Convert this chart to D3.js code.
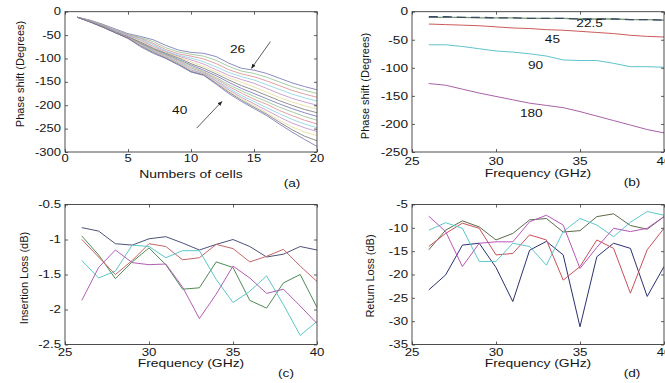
<!DOCTYPE html>
<html><head><meta charset="utf-8">
<script src="https://cdn.jsdelivr.net/npm/d3@7"></script>
<style>
body{margin:0;background:#fff}
svg{display:block}
text{font-family:"Liberation Sans",Arial,sans-serif;fill:#151515}
</style>
</head><body><svg id="chart" width="665" height="383"></svg>
<script>
// ---------- Panel (a): phase shift vs number of cells, 26..40 GHz ----------
const cells = [1,2,3,4,5,6,7,8,9,10,11,12,13,14,15,16,17,18,19,20];
const phase26 = [-12,-18,-27,-37,-47,-53,-60,-72,-82,-87,-89,-96,-110,-121,-125,-132,-142,-152,-160,-167];
const phase27 = [-12,-19,-28,-39,-49,-55,-64,-77,-86,-91,-95,-104,-117,-127,-132,-140,-150,-160,-168,-175];
const phase28 = [-12,-19,-29,-40,-50,-57,-68,-81,-90,-95,-101,-111,-124,-133,-139,-148,-158,-168,-176,-183];
const phase29 = [-12,-20,-30,-41,-51,-59,-71,-84,-93,-99,-107,-118,-130,-139,-146,-156,-166,-176,-184,-191];
const phase30 = [-12,-20,-30,-42,-52,-61,-74,-86,-95,-103,-112,-124,-136,-145,-153,-164,-175,-185,-193,-200];
const phase31 = [-12,-20,-31,-43,-53,-63,-76,-88,-97,-107,-117,-129,-141,-151,-161,-172,-183,-193,-201,-208];
const phase32 = [-12,-21,-31,-43,-54,-65,-78,-89,-99,-111,-121,-133,-146,-158,-168,-179,-190,-200,-209,-216];
const phase33 = [-12,-21,-32,-44,-54,-67,-80,-91,-102,-114,-125,-137,-151,-164,-175,-186,-197,-207,-216,-224];
const phase34 = [-12,-21,-32,-44,-55,-68,-81,-92,-104,-117,-128,-141,-156,-169,-181,-192,-204,-214,-224,-232];
const phase35 = [-12,-21,-32,-44,-55,-69,-83,-94,-106,-120,-130,-144,-160,-174,-187,-198,-211,-222,-232,-240];
const phase36 = [-12,-22,-33,-45,-56,-70,-84,-96,-108,-123,-132,-147,-164,-179,-192,-205,-218,-230,-240,-248];
const phase37 = [-12,-22,-33,-45,-56,-71,-85,-97,-110,-125,-133,-149,-167,-183,-197,-211,-225,-238,-248,-256];
const phase38 = [-12,-22,-33,-45,-57,-72,-86,-98,-111,-127,-134,-151,-170,-186,-201,-216,-232,-246,-257,-265];
const phase39 = [-12,-22,-33,-45,-57,-73,-87,-99,-112,-128,-135,-153,-172,-189,-204,-219,-236,-252,-266,-276];
const phase40 = [-12,-22,-33,-45,-57,-75,-89,-100,-114,-129,-136,-155,-175,-192,-207,-222,-240,-257,-273,-288];
const phaseCellSeries = [phase26,phase27,phase28,phase29,phase30,phase31,phase32,phase33,phase34,phase35,phase36,phase37,phase38,phase39,phase40];
const aXTicks = [0,5,10,15,20];
const aYTicks = [0,-50,-100,-150,-200,-250,-300];

// ---------- Panel (b): phase shift vs frequency ----------
const freq = [26,27,28,29,30,31,32,33,34,35,36,37,38,39,40];
const ps22g = [-10,-10,-10,-11,-11,-11,-12,-12,-12,-13,-13,-13,-14,-14,-15];
const ps22b = [-9,-9,-10,-10,-11,-11,-12,-12,-12,-13,-13,-13,-14,-14,-15];
const ps45  = [-22,-23,-24,-25,-27,-29,-30,-32,-33,-35,-37,-39,-42,-44,-45];
const ps90  = [-59,-59,-62,-66,-70,-72,-75,-79,-86,-87,-87,-92,-98,-98,-99];
const ps180 = [-128,-131,-138,-145,-151,-157,-163,-167,-171,-178,-186,-194,-202,-210,-216];
const bLabels = ["22.5","45","90","180"];
const bXTicks = [25,30,35,40];
const bYTicks = [0,-50,-100,-150,-200,-250];

// ---------- Panel (c): insertion loss ----------
const ilBlue    = [-0.83,-0.88,-1.06,-1.08,-0.99,-0.96,-1.05,-1.15,-1.07,-1.0,-1.1,-1.25,-1.21,-1.1,-1.15];
const ilGreen   = [-0.95,-1.22,-1.56,-1.32,-1.12,-1.36,-1.71,-1.69,-1.32,-1.4,-1.87,-1.98,-1.62,-1.5,-1.97];
const ilRed     = [-1.0,-1.25,-1.5,-1.3,-1.06,-1.1,-1.29,-1.26,-1.07,-1.13,-1.32,-1.24,-1.14,-1.38,-1.6];
const ilCyan    = [-1.3,-1.55,-1.45,-1.08,-1.1,-1.26,-1.16,-1.16,-1.57,-1.9,-1.74,-1.52,-1.93,-2.37,-2.17];
const ilMagenta = [-1.87,-1.4,-1.15,-1.33,-1.36,-1.35,-1.68,-2.13,-1.78,-1.38,-1.55,-1.77,-1.71,-1.95,-2.2];
const cYTicks = [-0.5,-1,-1.5,-2,-2.5];

// ---------- Panel (d): return loss ----------
const rlBlue    = [-23.3,-20.1,-13.7,-13.3,-18.5,-25.8,-14.8,-12.9,-15.8,-31.2,-16.2,-13.3,-14.4,-24.7,-18.3];
const rlGreen   = [-14.7,-10.5,-8.5,-9.8,-12.6,-11.2,-8.3,-8.0,-10.9,-10.6,-7.6,-7.0,-9.5,-10.3,-7.6];
const rlRed     = [-14.0,-11.2,-9.0,-10.1,-15.8,-15.5,-11.5,-12.6,-21.2,-18.3,-12.6,-14.4,-24.0,-14.7,-10.1];
const rlCyan    = [-10.5,-8.9,-10.1,-17.2,-17.2,-13.3,-14.0,-18.0,-10.8,-8.0,-9.4,-11.9,-8.8,-6.5,-7.3];
const rlMagenta = [-7.5,-10.8,-18.3,-13.3,-13.0,-13.0,-8.7,-7.3,-9.4,-18.7,-14.2,-10.1,-10.8,-10.1,-7.6];
const dYTicks = [-5,-10,-15,-20,-25,-30,-35];

// ---------- drawing ----------
const svg = d3.select('#chart');
const SX = 1.3; // horizontal stretch of the original raster text

function txt(g, x, y, s, size, anchor) {
  return g.append('text')
    .attr('transform', `translate(${x},${y}) scale(${SX},1)`)
    .attr('text-anchor', anchor || 'middle')
    .style('font-size', size + 'px')
    .text(s);
}
function vtxt(g, x, y, s, size) {
  return g.append('text')
    .attr('transform', `translate(${x},${y}) rotate(-90)`)
    .attr('text-anchor', 'middle')
    .style('font-size', size + 'px')
    .text(s);
}

let clipId = 0;
function panel(cfg) {
  const g = svg.append('g');
  const x = d3.scaleLinear().domain(cfg.xd).range([cfg.l, cfg.r]);
  const y = d3.scaleLinear().domain(cfg.yd).range([cfg.b, cfg.t]);
  const id = 'clip' + (clipId++);
  svg.append('clipPath').attr('id', id).append('rect')
    .attr('x', cfg.l).attr('y', cfg.t).attr('width', cfg.r - cfg.l).attr('height', cfg.b - cfg.t);
  const lg = g.append('g').attr('clip-path', `url(#${id})`);
  const line = d3.line().x((d) => x(d[0])).y((d) => y(d[1]));
  cfg.series.forEach((s) => {
    lg.append('path')
      .datum(cfg.xs.map((v, i) => [v, s.values[i]]))
      .attr('d', line)
      .attr('fill', 'none')
      .attr('stroke', s.color)
      .attr('stroke-width', s.width || 1)
      .attr('stroke-dasharray', s.dash || null);
  });
  g.append('rect').attr('x', cfg.l).attr('y', cfg.t)
    .attr('width', cfg.r - cfg.l).attr('height', cfg.b - cfg.t)
    .attr('fill', 'none').attr('stroke', '#3a3a3a').attr('stroke-width', 0.9);
  const tk = 3;
  const axes = [
    [d3.axisBottom(x).tickValues(cfg.xt), `translate(0,${cfg.b})`],
    [d3.axisTop(x).tickValues(cfg.xt), `translate(0,${cfg.t})`],
    [d3.axisLeft(y).tickValues(cfg.yt), `translate(${cfg.l},0)`],
    [d3.axisRight(y).tickValues(cfg.yt), `translate(${cfg.r},0)`]
  ];
  axes.forEach(([ax, tr]) => {
    const a = g.append('g').attr('transform', tr)
      .call(ax.tickSize(-tk).tickFormat(''));
    a.select('.domain').remove();
    a.selectAll('line').attr('stroke', '#3a3a3a').attr('stroke-width', 0.8);
  });
  cfg.xt.forEach((v) => txt(g, x(v), cfg.b + cfg.xOff, String(v), cfg.tickSize));
  cfg.yt.forEach((v) => txt(g, cfg.l - 4, y(v) + cfg.tickSize * 0.36, String(v), cfg.tickSize, 'end'));
  txt(g, (cfg.l + cfg.r) / 2, cfg.xTitleY, cfg.xTitle, 10.7);
  vtxt(g, cfg.yTitleX, cfg.yTitleY, cfg.yTitle, 11);
  txt(g, cfg.tagX, cfg.tagY, cfg.tag, 10.5);
  return { g, x, y };
}

const fadeCols = ['#6e6fb4', '#8fbf8f', '#d88a8a', '#86cfe0', '#c48ac4', '#e6dc96', '#777777'];
const pa = panel({
  l: 65, r: 317, t: 11.7, b: 152,
  xd: [0, 20], yd: [-300, 0], xt: aXTicks, yt: aYTicks, xs: cells,
  series: phaseCellSeries.map((v, i) => ({ values: v, color: fadeCols[i % fadeCols.length], width: 0.8 })),
  tickSize: 10, xOff: 10,
  xTitle: 'Numbers of cells', xTitleY: 178,
  yTitle: 'Phase shift (Degrees)', yTitleX: 23.5, yTitleY: 74,
  tag: '(a)', tagX: 292, tagY: 187
});
svg.append('defs').append('marker').attr('id', 'arr')
  .attr('viewBox', '0 0 10 10').attr('refX', 9).attr('refY', 5)
  .attr('markerWidth', 6).attr('markerHeight', 6).attr('orient', 'auto')
  .append('path').attr('d', 'M0,1 L10,5 L0,9 Z').attr('fill', '#222');
pa.g.append('line').attr('x1', pa.x(16.3)).attr('y1', pa.y(-64)).attr('x2', pa.x(14.8)).attr('y2', pa.y(-121))
  .attr('stroke', '#333').attr('stroke-width', 0.8).attr('marker-end', 'url(#arr)');
pa.g.append('line').attr('x1', pa.x(10.45)).attr('y1', pa.y(-249)).attr('x2', pa.x(12.45)).attr('y2', pa.y(-192))
  .attr('stroke', '#333').attr('stroke-width', 0.8).attr('marker-end', 'url(#arr)');
txt(pa.g, pa.x(13.7), pa.y(-88), '26', 10.5);
txt(pa.g, pa.x(9.1), pa.y(-219), '40', 10.5);

const pb = panel({
  l: 412, r: 664, t: 11.7, b: 152,
  xd: [25, 40], yd: [-250, 0], xt: bXTicks, yt: bYTicks, xs: freq,
  series: [
    { values: ps22g, color: '#7a9a7a', width: 1.3 },
    { values: ps22b, color: '#3c4a66', width: 1.3, dash: '9,5' },
    { values: ps45, color: '#cc5a5a', width: 1 },
    { values: ps90, color: '#5ec4cc', width: 1 },
    { values: ps180, color: '#a860a8', width: 1 }
  ],
  tickSize: 10.5, xOff: 13,
  xTitle: 'Frequency (GHz)', xTitleY: 177,
  yTitle: 'Phase shift (Degrees)', yTitleX: 369, yTitleY: 86,
  tag: '(b)', tagX: 632, tagY: 186
});
const bPos = [[35.57, -27], [33.36, -55], [32.35, -102], [32.1, -187.5]];
bLabels.forEach((s, i) => txt(pb.g, pb.x(bPos[i][0]), pb.y(bPos[i][1]), s, 10.5));

const pc = panel({
  l: 65, r: 317, t: 204.5, b: 344.5,
  xd: [25, 40], yd: [-2.5, -0.5], xt: bXTicks, yt: cYTicks, xs: freq,
  series: [
    { values: ilBlue, color: '#4d5278' },
    { values: ilGreen, color: '#4f8a55' },
    { values: ilRed, color: '#c4666a' },
    { values: ilCyan, color: '#5cc6c8' },
    { values: ilMagenta, color: '#b25eb4' }
  ],
  tickSize: 10.2, xOff: 11,
  xTitle: 'Frequency (GHz)', xTitleY: 367,
  yTitle: 'Insertion Loss (dB)', yTitleX: 27.5, yTitleY: 278,
  tag: '(c)', tagX: 286, tagY: 377
});

const pd = panel({
  l: 412, r: 664, t: 204.5, b: 344.5,
  xd: [25, 40], yd: [-35, -5], xt: bXTicks, yt: dYTicks, xs: freq,
  series: [
    { values: rlBlue, color: '#2c3170' },
    { values: rlGreen, color: '#5a6a4a' },
    { values: rlRed, color: '#c8505a' },
    { values: rlCyan, color: '#5cc6cc' },
    { values: rlMagenta, color: '#b856b8' }
  ],
  tickSize: 10.2, xOff: 11,
  xTitle: 'Frequency (GHz)', xTitleY: 367,
  yTitle: 'Return Loss (dB)', yTitleX: 374, yTitleY: 276,
  tag: '(d)', tagX: 632, tagY: 377
});
</script>
</body></html>
